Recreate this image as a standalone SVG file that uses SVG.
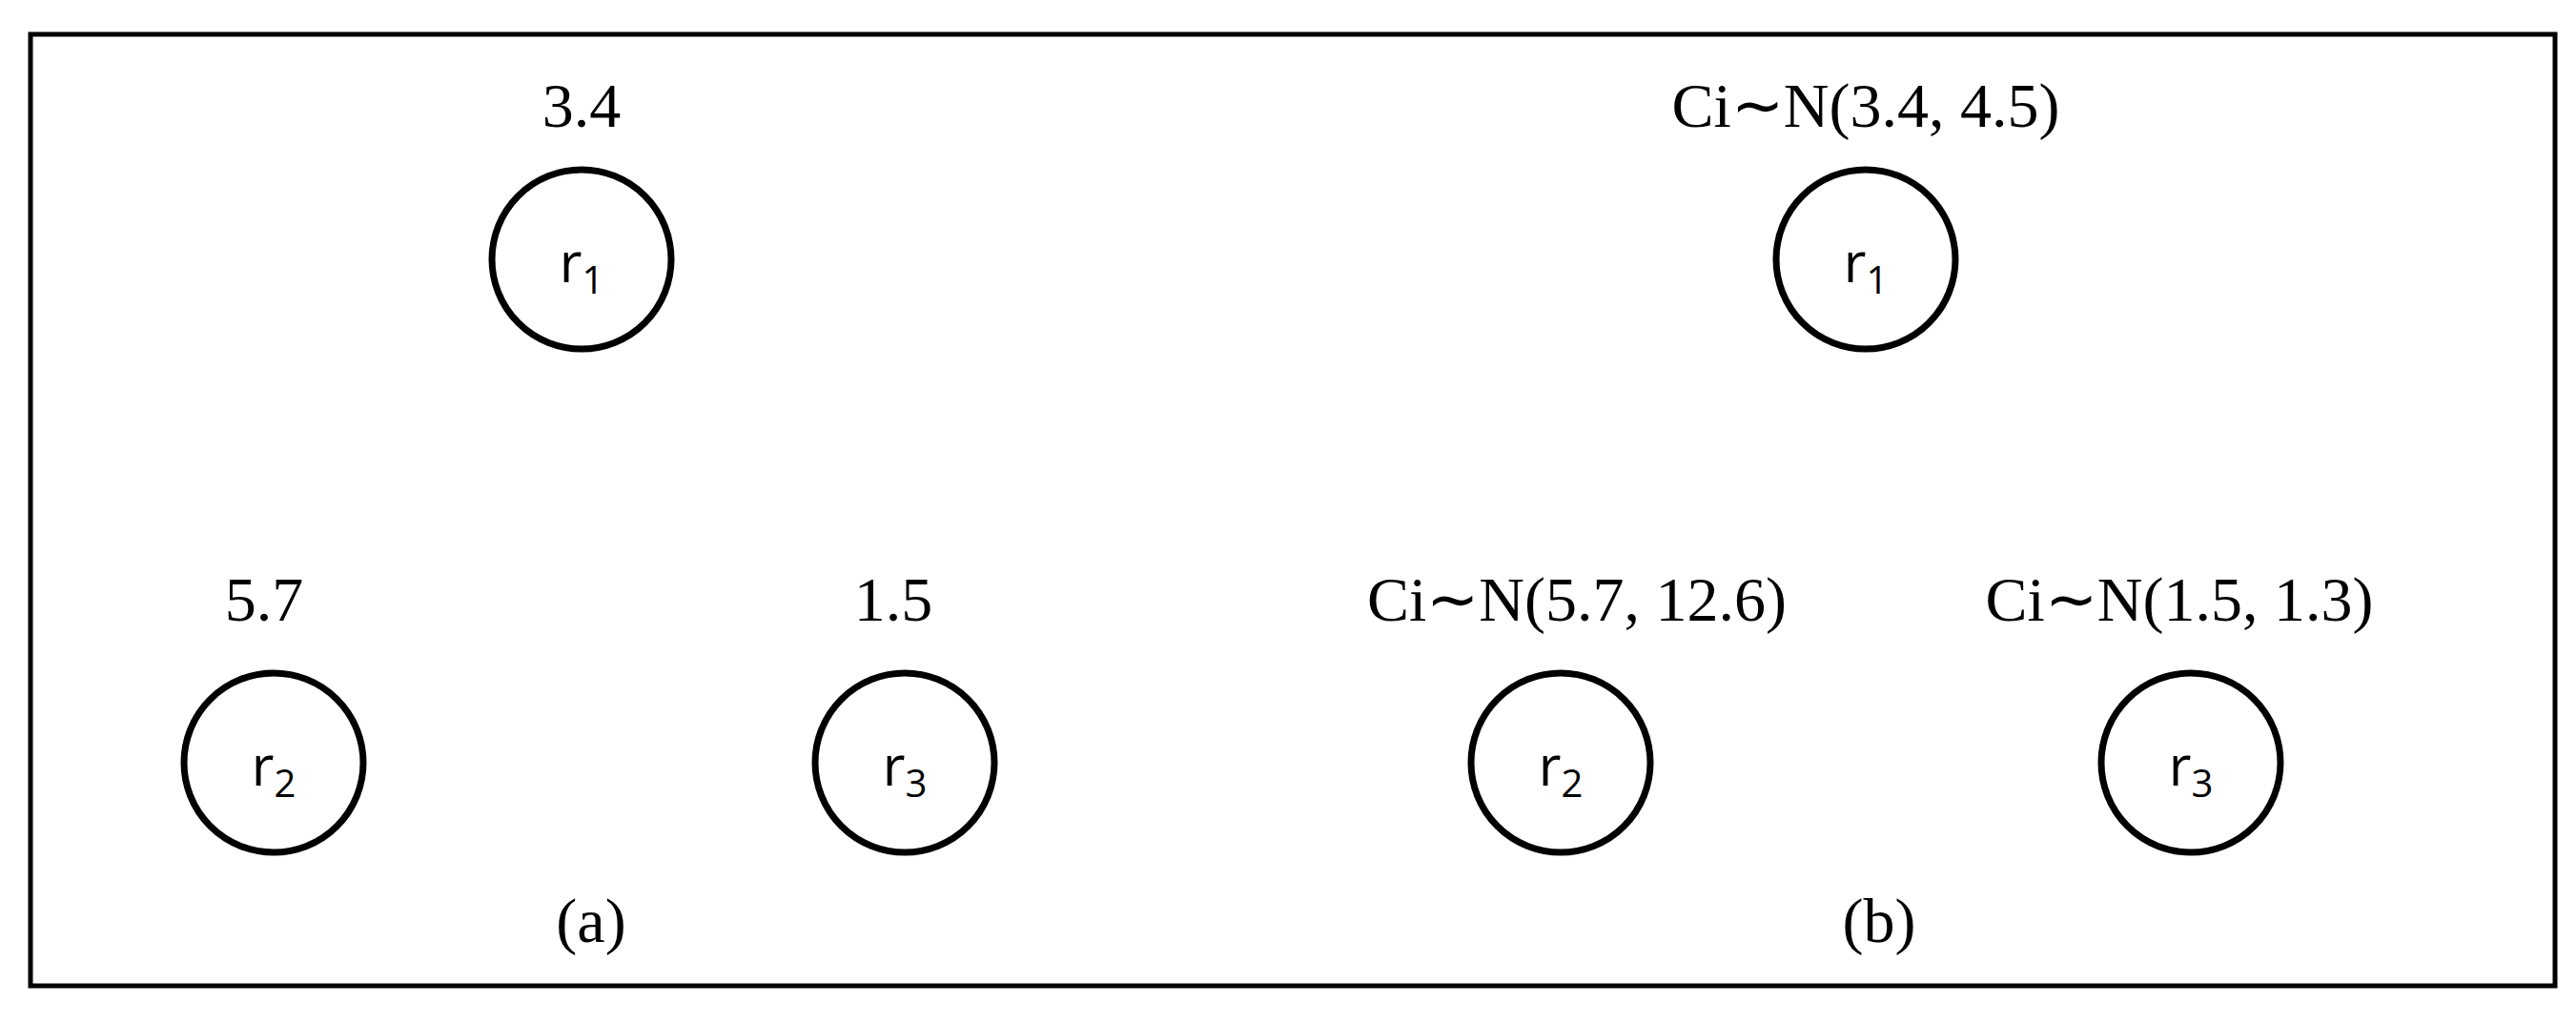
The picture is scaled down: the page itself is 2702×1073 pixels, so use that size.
<svg xmlns="http://www.w3.org/2000/svg" width="2702" height="1073" viewBox="0 0 2702 1073">
<style>
.n{fill:none;stroke:#000;stroke-width:7}
.v{font-family:"Liberation Serif",serif;font-size:66px;text-anchor:middle;fill:#000}
.r{font-family:"Open Sans","DejaVu Sans",sans-serif;font-size:58px;text-anchor:middle;fill:#000}
.s{font-size:40px}
</style>
<rect x="32" y="36" width="2648" height="998" fill="#fff" stroke="#000" stroke-width="5"/>
<g id="connectors"/>
<g id="a_r1"><circle class="n" cx="610" cy="272" r="94"/><text class="r" x="610" y="296">r<tspan class="s" dy="12">1</tspan></text><text class="v" x="610" y="133">3.4</text></g>
<g id="a_r2"><circle class="n" cx="287" cy="800" r="94"/><text class="r" x="287" y="824">r<tspan class="s" dy="12">2</tspan></text><text class="v" x="277" y="651">5.7</text></g>
<g id="a_r3"><circle class="n" cx="949" cy="800" r="94"/><text class="r" x="949" y="824">r<tspan class="s" dy="12">3</tspan></text><text class="v" x="937" y="651">1.5</text></g>
<g id="b_r1"><circle class="n" cx="1957" cy="272" r="94"/><text class="r" x="1957" y="296">r<tspan class="s" dy="12">1</tspan></text><text class="v" x="1957" y="133">Ci∼N(3.4, 4.5)</text></g>
<g id="b_r2"><circle class="n" cx="1637" cy="800" r="94"/><text class="r" x="1637" y="824">r<tspan class="s" dy="12">2</tspan></text><text class="v" x="1654" y="651">Ci∼N(5.7, 12.6)</text></g>
<g id="b_r3"><circle class="n" cx="2298" cy="800" r="94"/><text class="r" x="2298" y="824">r<tspan class="s" dy="12">3</tspan></text><text class="v" x="2286" y="651">Ci∼N(1.5, 1.3)</text></g>
<text class="v" x="620" y="988">(a)</text>
<text class="v" x="1971" y="988">(b)</text>
</svg>
